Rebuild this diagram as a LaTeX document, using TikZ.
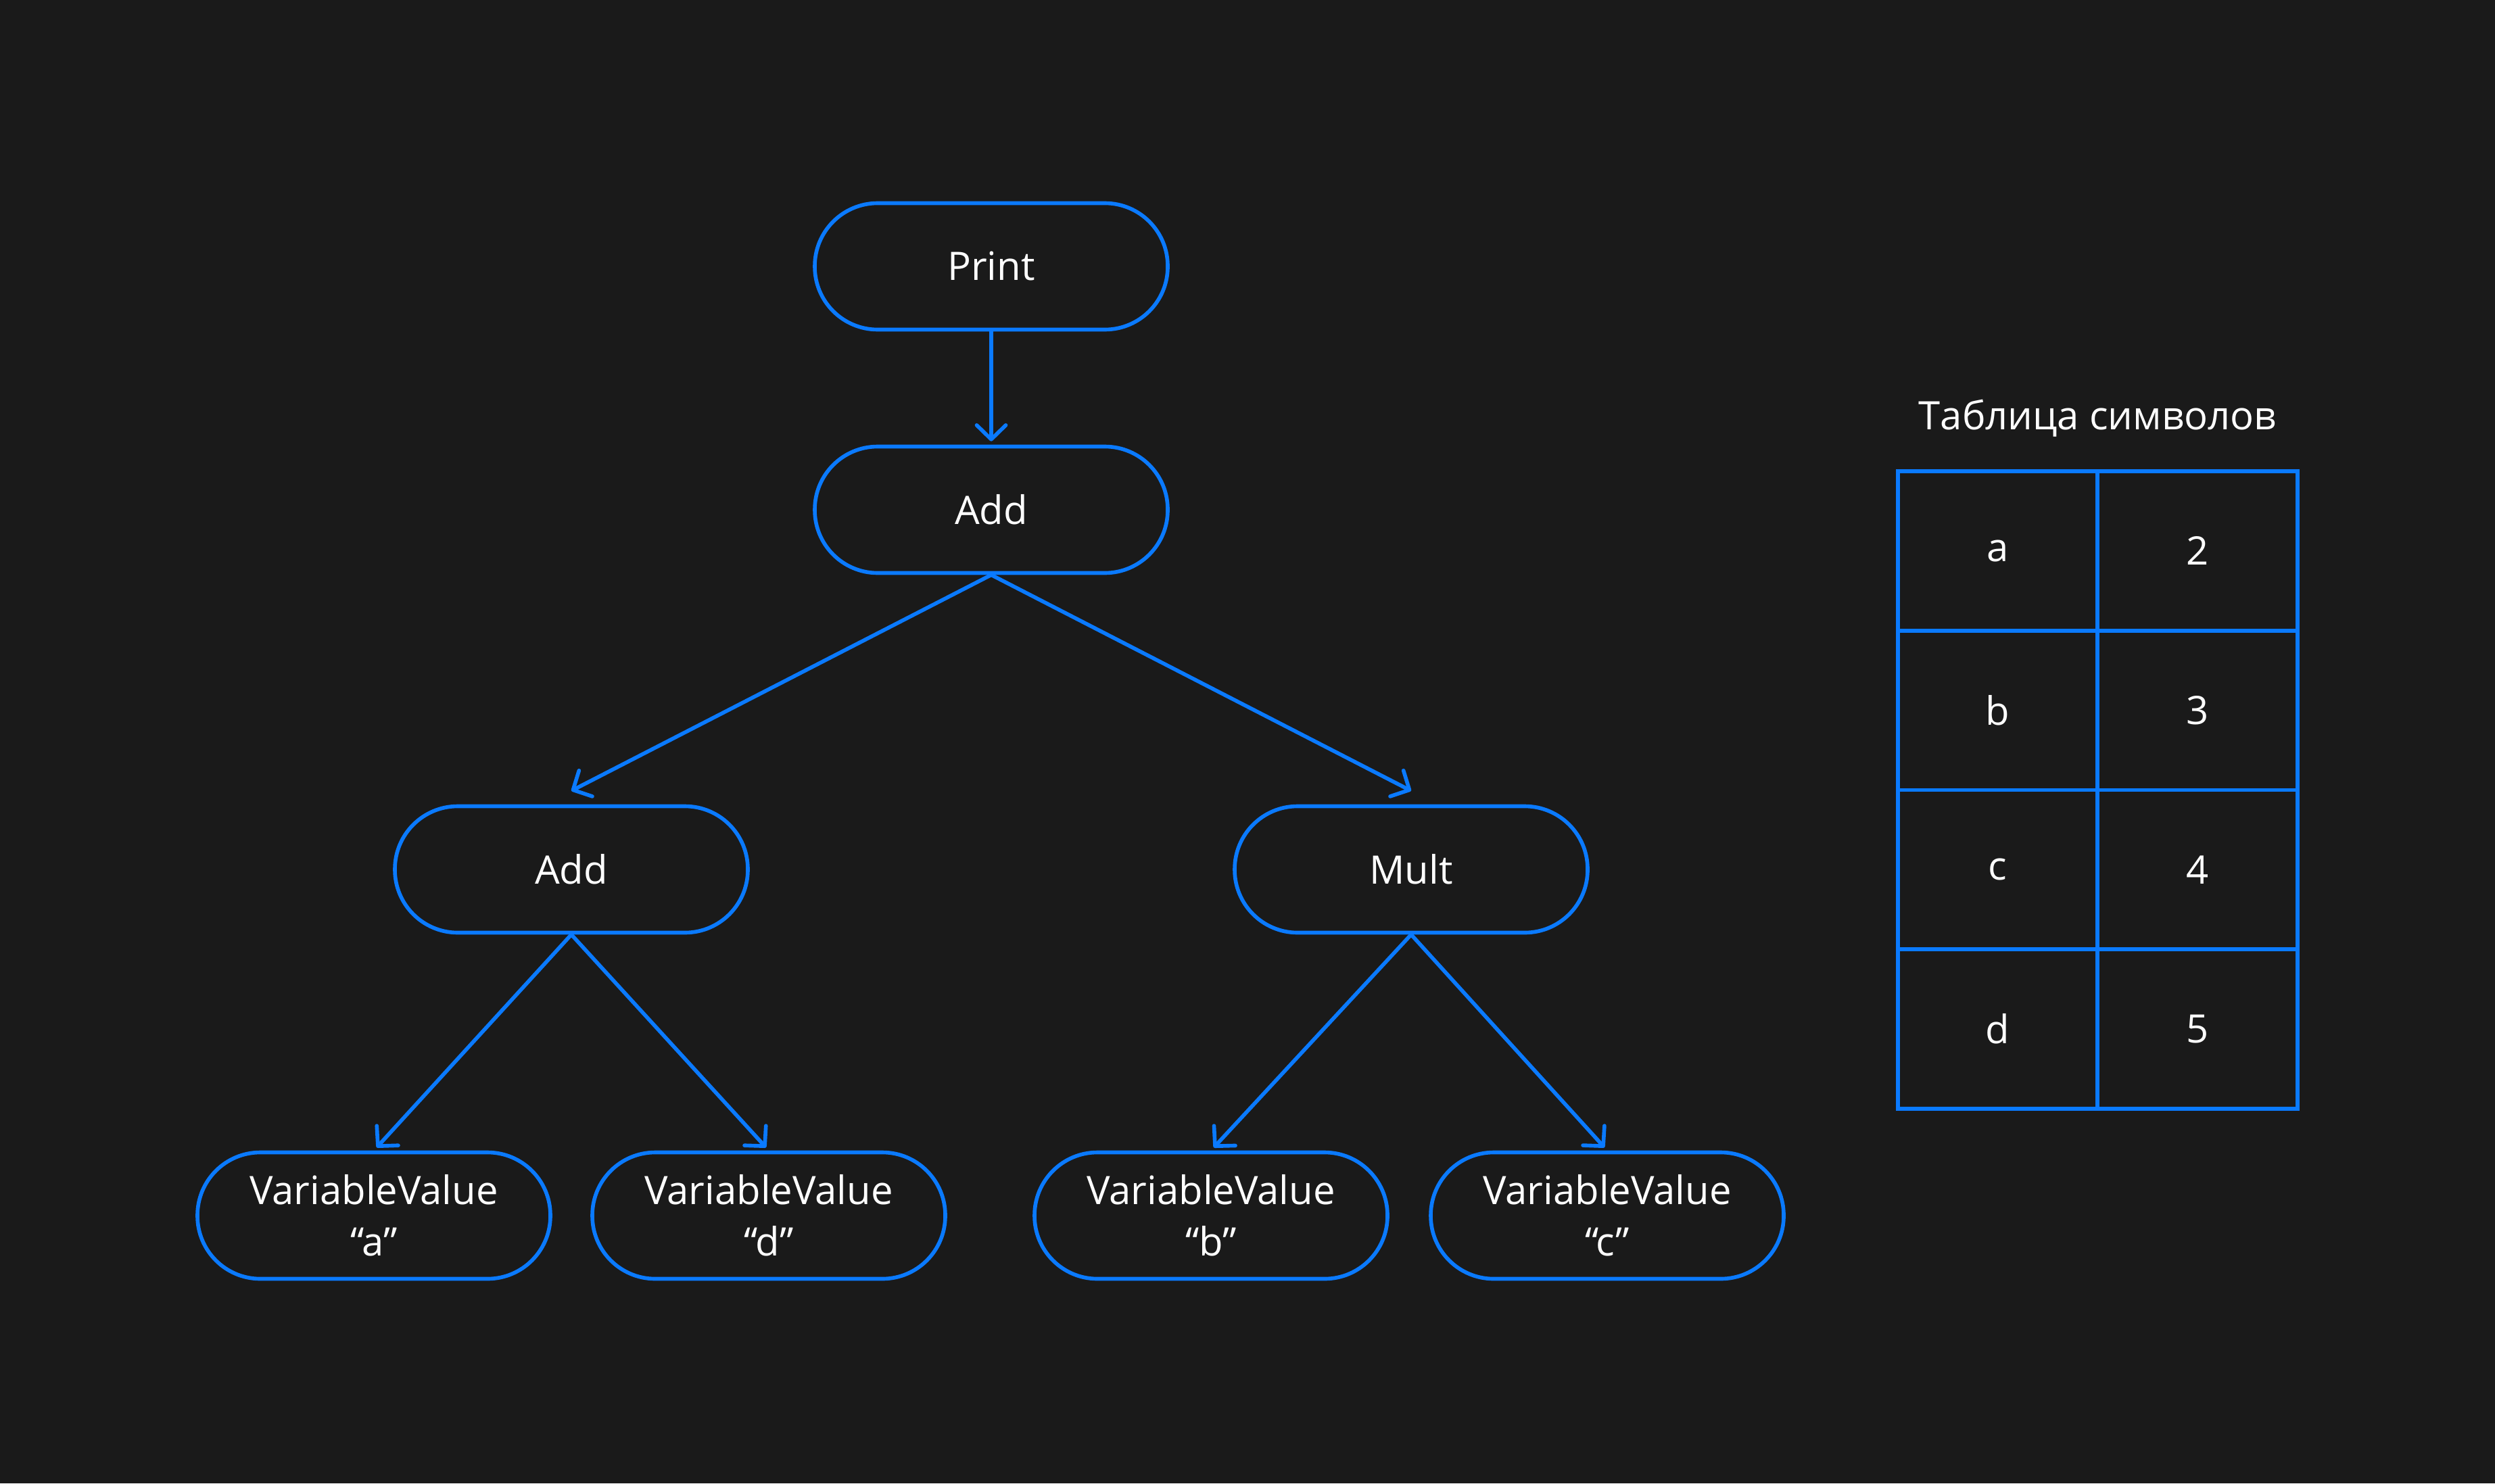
\documentclass[tikz,border=0pt]{standalone}
\usepackage{fontspec}
\setmainfont{Open Sans}
\usepackage{tikz}
\usetikzlibrary{arrows.meta,positioning}

\definecolor{sfondo}{HTML}{1A1A1A}
\definecolor{blu}{HTML}{0A7AFF}

\begin{document}
\begin{tikzpicture}[
                % Stile dei nodi arrotondati dell'albero
                nodo/.style={
                    draw=blu,
                    rectangle,
                    rounded corners=0.93cm,
                    minimum width=5.22cm,
                    minimum height=1.87cm,
                    line width=1.6pt,
                    text=white,
                    align=center,
                    font=\fontsize{16.5}{21.5}\selectfont
                },
                % Stile delle celle della tabella
                cella/.style={
                    draw=blu,
                    rectangle,
                    minimum width=2.955cm,
                    minimum height=2.3575cm,
                    outer sep=0pt,
                    line width=1.6pt,
                    text=white,
                    font=\fontsize{16.5}{20}\selectfont
                },
                % Stile per le frecce con la punta aperta
                freccia/.style={
                    -{Straight Barb[length=2.1mm, width=4.3mm, round]},
                    draw=blu,
                    line width=1.6pt,
                    line cap=round
                }
            ]

                % 0. Sfondo scuro con le misure del riferimento
                \fill [sfondo] (0,0) rectangle (36.9,-21.94);
                \useasboundingbox (0,0) rectangle (36.9,-21.94);

                % 1. Nodi dell'albero
                \node [nodo] (print) at (14.66,-3.94) {Print};
                \node [nodo] (add) at (14.66,-7.54) {Add};
                \node [nodo] (addL) at (8.45,-12.86) {Add};
                \node [nodo] (mult) at (20.87,-12.86) {Mult};
                \node [nodo] (varA) at (5.53,-17.98) {VariableValue\\“a”};
                \node [nodo] (varD) at (11.37,-17.98) {VariableValue\\“d”};
                \node [nodo] (varB) at (17.91,-17.98) {VariableValue\\“b”};
                \node [nodo] (varC) at (23.77,-17.98) {VariableValue\\“c”};

                % 2. Frecce tra i nodi
                \draw [freccia, shorten >=0.5mm] (print.south) -- (add.north);
                \draw [freccia] (add.south) -- ([yshift=2mm]addL.north);
                \draw [freccia] (add.south) -- ([yshift=2mm]mult.north);
                \draw [freccia, shorten >=0.6mm] (addL.south) -- (varA.north);
                \draw [freccia, shorten >=0.6mm] (addL.south) -- (varD.north);
                \draw [freccia, shorten >=0.6mm] (mult.south) -- (varB.north);
                \draw [freccia, shorten >=0.6mm] (mult.south) -- (varC.north);

                % 3. Tabella dei simboli
                \node [text=white, font=\fontsize{16.5}{20}\selectfont] (titolo) at (31.02,-6.19) {Таблица символов};
                \foreach \nome/\valore [count=\i] in {a/2, b/3, c/4, d/5} {
                    \node [cella] (chiave\i) at (29.545,{-6.97-(\i-0.5)*2.3575}) {\nome};
                    \node [cella, right=0pt of chiave\i] (valore\i) {\valore};
                }

            \end{tikzpicture}
\end{document}
